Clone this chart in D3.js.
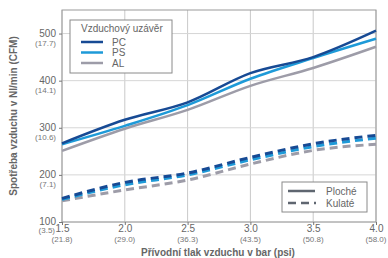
<!DOCTYPE html>
<html>
<head>
<meta charset="utf-8">
<script src="https://cdn.jsdelivr.net/npm/d3@7"></script>
<style>
  body { margin: 0; background: #fff; }
  text { font-family: "Liberation Sans", Arial, sans-serif; }
</style>
</head>
<body>
<svg id="chart" width="388" height="258"></svg>
<script>
/* DATA */
var pressures = [1.5, 2.0, 2.5, 3.0, 3.5, 4.0];
var psiLabels = ["(21.8)", "(29.0)", "(36.3)", "(43.5)", "(50.8)", "(58.0)"];
var flowTicks = [100, 200, 300, 400, 500];
var cfmLabels = ["(3.5)", "(7.1)", "(10.6)", "(14.1)", "(17.7)"];

var seriesNames = ["PC", "PS", "AL"];
var flatPC = [267, 317, 354, 416, 450, 506];
var flatPS = [265, 304, 348, 404, 448, 489];
var flatAL = [251, 298, 338, 389, 427, 472];
var roundPC = [150, 184, 204, 237, 266, 284];
var roundPS = [148, 179, 200, 232, 260, 278];
var roundAL = [145, 168, 189, 223, 252, 265];

var colors = { PC: "#174a94", PS: "#1e9ad8", AL: "#9d9ca8" };

var svg = d3.select("#chart");
var plotLeft = 62, plotRight = 376, plotTop = 10, plotBottom = 222;

var x = d3.scaleLinear().domain([1.5, 4.0]).range([plotLeft, plotRight]);
var y = d3.scaleLinear().domain([100, 550]).range([plotBottom, plotTop]);

/* GRID */
var grid = svg.append("g");
grid.selectAll(".gx").data(pressures).enter().append("line")
  .attr("x1", function(d){ return x(d); }).attr("x2", function(d){ return x(d); })
  .attr("y1", plotTop).attr("y2", plotBottom)
  .attr("stroke", "#c9c9c9").attr("stroke-width", 1);
grid.selectAll(".gy").data(flowTicks).enter().append("line")
  .attr("x1", plotLeft).attr("x2", plotRight)
  .attr("y1", function(d){ return y(d); }).attr("y2", function(d){ return y(d); })
  .attr("stroke", "#d6d6d6").attr("stroke-width", 1);
svg.append("rect")
  .attr("x", plotLeft).attr("y", plotTop).attr("width", plotRight - plotLeft).attr("height", plotBottom - plotTop)
  .attr("fill", "none").attr("stroke", "#9a9a9a").attr("stroke-width", 1);

/* AXES */
var xAxis = svg.append("g").attr("transform", "translate(0," + plotBottom + ")")
  .call(d3.axisBottom(x).tickValues(pressures).tickSize(3).tickFormat(d3.format(".1f")));
var yAxis = svg.append("g").attr("transform", "translate(" + plotLeft + ",0)")
  .call(d3.axisLeft(y).tickValues(flowTicks).tickSize(3).tickFormat(d3.format("d")));
[xAxis, yAxis].forEach(function(a){
  a.select(".domain").remove();
  a.selectAll("line").attr("stroke", "#777");
  a.selectAll("text").attr("fill", "#666").style("font-size", "10px")
    .style("font-family", "Liberation Sans, Arial, sans-serif");
});
xAxis.selectAll("text").attr("y", 3);
yAxis.selectAll("text").attr("dy", "0.25em").attr("x", -6);

/* SECONDARY LABELS */
svg.selectAll(".psi").data(pressures).enter().append("text")
  .attr("x", function(d){ return x(d); }).attr("y", 242)
  .attr("text-anchor", "middle").attr("fill", "#777").style("font-size", "8px")
  .text(function(d, i){ return psiLabels[i]; });
svg.selectAll(".cfm").data(flowTicks.slice(1)).enter().append("text")
  .attr("x", plotLeft - 6).attr("y", function(d){ return y(d) + 12; })
  .attr("text-anchor", "end").attr("fill", "#777").style("font-size", "8px")
  .text(function(d, i){ return cfmLabels[i + 1]; });
svg.append("text").attr("x", 55).attr("y", 233)
  .attr("text-anchor", "end").attr("fill", "#777").style("font-size", "8px")
  .text(cfmLabels[0]);

/* TITLES */
svg.append("text").attr("x", 218).attr("y", 256)
  .attr("text-anchor", "middle").attr("fill", "#666")
  .style("font-size", "10px").style("font-weight", "bold")
  .text("Přívodní tlak vzduchu v bar (psi)");
svg.append("text").attr("transform", "translate(17," + 116 + ") rotate(-90)")
  .attr("text-anchor", "middle").attr("fill", "#666")
  .style("font-size", "10px").style("font-weight", "bold")
  .text("Spotřeba vzduchu v Nl/min (CFM)");

/* LINES */
var line = d3.line()
  .x(function(d, i){ return x(pressures[i]); })
  .y(function(d){ return y(d); })
  .curve(d3.curveMonotoneX);

var roundData = { PC: roundPC, PS: roundPS, AL: roundAL };
var flatData = { PC: flatPC, PS: flatPS, AL: flatAL };
["AL", "PS", "PC"].forEach(function(n){
  svg.append("path").attr("d", line(roundData[n]))
    .attr("fill", "none").attr("stroke", colors[n])
    .attr("stroke-width", 3).attr("stroke-dasharray", "8,5");
});
["AL", "PS", "PC"].forEach(function(n){
  svg.append("path").attr("d", line(flatData[n]))
    .attr("fill", "none").attr("stroke", colors[n]).attr("stroke-width", 2.5);
});

/* LEGEND 1 */
var lg = svg.append("g");
lg.append("rect").attr("x", 70).attr("y", 20).attr("width", 102).attr("height", 53)
  .attr("fill", "#fff").attr("stroke", "#8a8a8a").attr("stroke-width", 1);
lg.append("text").attr("x", 81).attr("y", 32).attr("fill", "#666")
  .style("font-size", "10px").text("Vzduchový uzávěr");
seriesNames.forEach(function(n, i){
  var yy = 42 + i * 10.5;
  lg.append("line").attr("x1", 81).attr("x2", 103).attr("y1", yy).attr("y2", yy)
    .attr("stroke", colors[n]).attr("stroke-width", 2.5);
  lg.append("text").attr("x", 112).attr("y", yy + 3.5).attr("fill", "#666")
    .style("font-size", "10px").text(n);
});

/* LEGEND 2 */
var lg2 = svg.append("g");
lg2.append("rect").attr("x", 282).attr("y", 182).attr("width", 85).attr("height", 30)
  .attr("fill", "#fff").attr("stroke", "#8a8a8a").attr("stroke-width", 1);
[["Ploché", null], ["Kulaté", "8,5"]].forEach(function(e, i){
  var yy = 191 + i * 12;
  var l = lg2.append("line").attr("x1", 288).attr("x2", 315).attr("y1", yy).attr("y2", yy)
    .attr("stroke", "#5f6670").attr("stroke-width", 2.5);
  if (e[1]) l.attr("stroke-dasharray", e[1]).attr("x2", 316);
  lg2.append("text").attr("x", 326).attr("y", yy + 3.5).attr("fill", "#666")
    .style("font-size", "10px").text(e[0]);
});
</script>
</body>
</html>
